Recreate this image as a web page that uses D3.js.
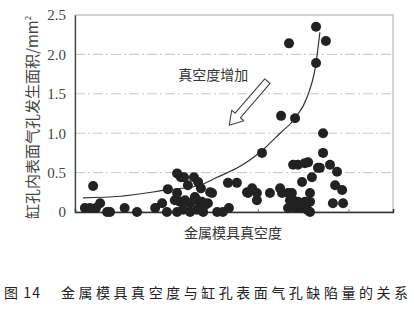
<!DOCTYPE html>
<html>
<head>
<meta charset="utf-8">
<script src="https://cdn.jsdelivr.net/npm/d3@7"></script>
<style>
  body { margin: 0; background: #fff; }
  svg text { font-family: "Noto Sans CJK SC", "DejaVu Sans", sans-serif; fill: #333; }
  .tick-num { font-family: "Liberation Serif", "DejaVu Serif", serif; }
</style>
</head>
<body>
<div id="viz"></div>
<script>
var width = 414, height = 311;

// vacuum (arbitrary units 0-100), pore area mm2
var dotX = [5.7,3.1,4.7,6.6,7.9,10.1,11.0,15.6,19.5,25.2,27.4,28.9,29.2,
  32.1,33.3,34.3,37.4,38.7,35.5,39.6,42.5,43.1,32.1,33.0,34.6,37.7,39.9,40.9,32.1,34.0,36.2,38.4,40.3,44.7,46.5,48.4,48.1,50.9,54.1,31.4,36.2,41.8,38.4,
  55.7,54.4,57.2,57.2,61.3,64.5,65.1,68.2,67.6,71.4,74.5,77.0,80.2,82.4,81.8,84.0,81.1,84.3,68.6,70.1,72.3,73.3,67.0,69.2,70.8,73.0,73.9,70.1,72.3,73.9,73.9,68.6,67.0,76.4,78.0,
  75.8,67.3,78.9,75.8,64.8,69.2,78.0,58.8];
var dotY = [0.33,0.05,0.05,0.05,0.11,0,0,0.05,0,0.05,0.11,0,0.29,
  0.49,0.44,0.44,0.44,0.38,0.34,0.30,0.25,0.24,0.24,0.13,0.15,0.19,0.13,0.09,0,0.03,0,0.03,0,0,0,0.05,0.37,0.37,0.25,0.15,0.11,0.11,0.15,
  0.30,0.24,0.24,0.15,0.24,0.30,0.24,0.24,0.15,0.38,0.44,0.56,0.60,0.51,0.34,0.28,0.11,0.11,0.60,0.60,0.62,0.63,0.05,0.05,0.05,0.03,0,0.13,0.13,0.24,0.13,0.15,0.24,0.56,0.75,
  2.35,2.14,2.17,1.89,1.22,1.19,1.0,0.75];

// trend line
var fitX = [2.5,14.2,28.9,39.3,44.7,51.9,55.0,59.1,64.5,69.2,73.0,75.8,77.0];
var fitY = [0.18,0.20,0.28,0.34,0.44,0.58,0.66,0.79,1.00,1.19,1.46,1.89,2.28];

var yTicks = [0, 0.5, 1.0, 1.5, 2.0, 2.5];
var xTicks = [29, 57.5, 86];

var yLabel = "缸孔内表面气孔发生面积/mm";
var xLabel = "金属模具真空度";
var arrowLabel = "真空度增加";
var figNo = "图 14";
var caption = "金属模具真空度与缸孔表面气孔缺陷量的关系";

var m = {left: 75, right: 21, top: 15, bottom: 99};
var svg = d3.select("#viz").append("svg").attr("width", width).attr("height", height);

var x = d3.scaleLinear().domain([0, 100]).range([m.left, width - m.right]);
var y = d3.scaleLinear().domain([0, 2.5]).range([height - m.bottom, m.top]);

// grid
svg.append("g").selectAll("line")
  .data(yTicks.filter(function(d){ return d > 0 && d < 2.5; }))
  .enter().append("line")
    .attr("x1", x(0)).attr("x2", x(100))
    .attr("y1", function(d){ return y(d); }).attr("y2", function(d){ return y(d); })
    .attr("stroke", "#c8c8c8").attr("stroke-width", 1)
    .attr("stroke-dasharray", "10,3,2,3");

// frame
svg.append("rect")
  .attr("x", x(0)).attr("y", y(2.5))
  .attr("width", x(100) - x(0)).attr("height", y(0) - y(2.5))
  .attr("fill", "none").attr("stroke", "#aaa").attr("stroke-width", 1);

// axes
var yAxis = svg.append("g")
  .attr("transform", "translate(" + x(0) + ",0)")
  .call(d3.axisLeft(y).tickValues(yTicks).tickSize(0).tickPadding(9)
    .tickFormat(function(d){ return d == 0 ? "0" : d3.format(".1f")(d); }));
yAxis.select(".domain").attr("stroke", "#444").attr("stroke-width", 1.3);
yAxis.selectAll("text").attr("class", "tick-num").style("font-size", "15px").style("fill", "#444");

var xAxis = svg.append("g")
  .attr("transform", "translate(0," + y(0) + ")")
  .call(d3.axisTop(x).tickValues(xTicks).tickSize(3).tickFormat(""));
xAxis.select(".domain").attr("stroke", "#333").attr("stroke-width", 1.5);
xAxis.selectAll(".tick line").attr("stroke", "#777");

// fit curve
var line = d3.line()
  .x(function(d, i){ return x(fitX[i]); })
  .y(function(d, i){ return y(fitY[i]); })
  .curve(d3.curveMonotoneX);
svg.append("path")
  .attr("d", line(fitX))
  .attr("fill", "none").attr("stroke", "#333").attr("stroke-width", 1.2);

// dots
svg.append("g").selectAll("circle")
  .data(dotX)
  .enter().append("circle")
    .attr("cx", function(d){ return x(d); })
    .attr("cy", function(d, i){ return y(dotY[i]); })
    .attr("r", 5)
    .attr("fill", "#222");

// hollow arrow
var ax0 = x(60.5), ay0 = y(1.66), ax1 = x(48.5), ay1 = y(1.1);
var ang = Math.atan2(ay1 - ay0, ax1 - ax0);
var len = Math.hypot(ax1 - ax0, ay1 - ay0);
var hw = 3.5, hh = 8, hl = 13;
var arrowPts = [[0, -hw], [len - hl, -hw], [len - hl, -hh], [len, 0], [len - hl, hh], [len - hl, hw], [0, hw]];
svg.append("path")
  .attr("transform", "translate(" + ax0 + "," + ay0 + ") rotate(" + (ang * 180 / Math.PI) + ")")
  .attr("d", "M" + arrowPts.map(function(p){ return p.join(","); }).join("L") + "Z")
  .attr("fill", "#fff").attr("stroke", "#444").attr("stroke-width", 1.1)
  .attr("stroke-linejoin", "round");

svg.append("text")
  .attr("x", x(43.5)).attr("y", y(1.67))
  .attr("text-anchor", "middle")
  .style("font-size", "14px")
  .text(arrowLabel);

// labels
var yl = svg.append("text")
  .attr("transform", "translate(38," + y(1.2) + ") rotate(-90)")
  .attr("text-anchor", "middle")
  .style("font-size", "15px").style("fill", "#444");
yl.append("tspan").text(yLabel);
yl.append("tspan").attr("dy", -7).style("font-size", "8px").text("2");

svg.append("text")
  .attr("x", 233).attr("y", y(0) + 26)
  .attr("text-anchor", "middle")
  .style("font-size", "14px").style("fill", "#333")
  .text(xLabel);

svg.append("text")
  .attr("x", 4).attr("y", 298)
  .attr("textLength", 36).attr("lengthAdjust", "spacing")
  .style("font-size", "14px").style("fill", "#222")
  .text(figNo);

svg.append("text")
  .attr("x", 61).attr("y", 298)
  .attr("textLength", 347).attr("lengthAdjust", "spacing")
  .style("font-size", "14px").style("fill", "#222")
  .text(caption);
</script>
</body>
</html>
